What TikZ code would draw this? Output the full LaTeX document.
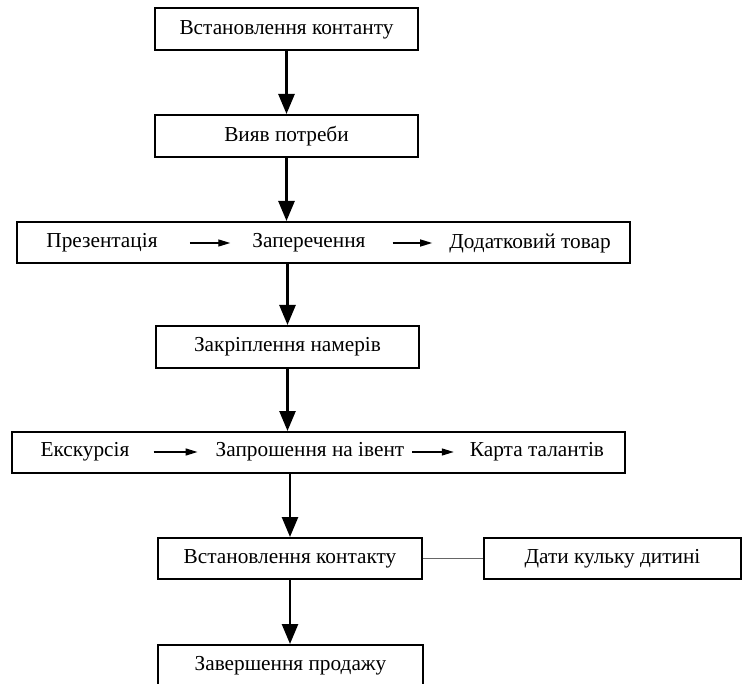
\documentclass[tikz,border=0pt]{standalone}
\usepackage{fontspec}
\setmainfont{Liberation Serif}
\usetikzlibrary{arrows.meta}
\begin{document}
\begin{tikzpicture}[x=1pt,y=-1pt,
  box/.style={draw=black,line width=2pt,fill=white,inner sep=0pt,minimum height=42pt,font=\fontsize{21.3}{25}\selectfont},
  word/.style={inner sep=0pt,font=\fontsize{21.3}{25}\selectfont},
  bigarr/.style={line width=2.6pt,-{Triangle[length=20pt,width=16pt]}},
  smallarr/.style={line width=1.4pt,-{Triangle[length=12pt,width=7pt]}},
  link/.style={draw=gray!80!black,line width=1.3pt}]
\useasboundingbox (0,0) rectangle (744,684);
\node[box,minimum width=263pt] (b1) at (286.5,29.5) {Встановлення контанту};
\node[box,minimum width=263pt] (b2) at (286.5,136) {Вияв потреби};
\node[box,minimum width=613pt,minimum height=41pt] (b3) at (323.5,242.5) {};
\node[word] (p1) at (102,243) {Презентація};
\node[word] (p2) at (309,243) {Заперечення};
\node[word] (p3) at (530,243) {Додатковий товар};
\node[box,minimum width=263pt] (b4) at (287.5,347) {Закріплення намерів};
\node[box,minimum width=613pt,minimum height=41pt] (b5) at (318.5,452.5) {};
\node[word] (e1) at (85,452) {Екскурсія};
\node[word] (e2) at (310,452) {Запрошення на івент};
\node[word] (e3) at (537,452) {Карта талантів};
\node[box,minimum width=264pt,minimum height=41pt] (b6) at (290,558.5) {Встановлення контакту};
\node[box,minimum width=257pt,minimum height=41pt] (b7) at (612.5,558.5) {Дати кульку дитині};
\node[box,minimum width=265pt] (b8) at (290.5,666) {Завершення продажу};
\draw[bigarr] (b1.south) -- (b2.north);
\draw[bigarr] (b2.south) -- (b2.south |- b3.north);
\draw[bigarr] (b4.north |- b3.south) -- (b4.north);
\draw[bigarr] (b4.south) -- (b4.south |- b5.north);
\draw[bigarr] (b6.north |- b5.south) -- (b6.north);
\draw[bigarr] (b6.south) -- (b6.south |- b8.north);
\draw[link] (b6.east) -- (b7.west);
\draw[smallarr,shorten <=32pt,shorten >=22pt] (p1.east) -- (p2.west);
\draw[smallarr,shorten <=27pt,shorten >=17pt] (p2.east) -- (p3.west);
\draw[smallarr,shorten <=24pt,shorten >=18pt] (e1.east) -- (e2.west);
\draw[smallarr,shorten <=8pt,shorten >=16pt] (e2.east) -- (e3.west);
\end{tikzpicture}
\end{document}
